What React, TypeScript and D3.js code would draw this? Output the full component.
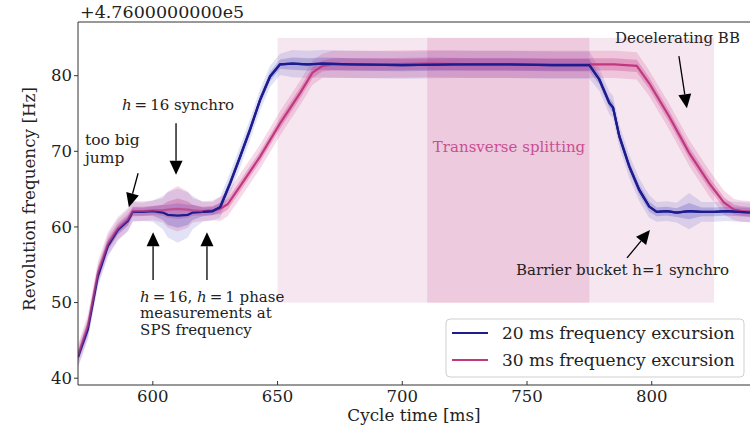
import React from "react";
import * as d3 from "d3";

// ---- data ----
const blueTime = [570,574,578,582,586,590,592,596,600,604,606,610,614,616,620,624,627,631,635,639,643,647,651,656,662,668,680,700,720,740,760,775,779,783,784.5,787,791,795,799,802,806,810,815,820,825,830,835,840];
const blueFreq = [42.8,46.5,53.5,57.5,59.6,60.8,62.0,62.0,62.1,61.9,61.6,61.5,61.6,61.9,62.0,62.1,62.6,65.8,69.3,72.9,76.8,79.9,81.5,81.6,81.5,81.6,81.5,81.4,81.5,81.5,81.4,81.4,79.5,76.4,75.8,72,68,64.9,62.7,62.0,62.1,61.9,62.1,62.0,62.0,62.1,62.0,61.9];
const blueSpread = [1.4,1.4,1.4,1.4,1.4,1.4,1.3,1.2,1.4,2.2,3.0,3.6,3.0,2.2,1.3,1.2,1.4,1.4,1.4,1.4,1.4,1.4,1.4,1.8,1.8,1.8,1.8,1.8,1.8,1.8,1.8,1.8,1.5,1.5,1.5,1.5,1.5,1.5,1.5,1.3,1.3,1.3,2.4,1.3,1.3,1.3,1.3,1.3];

const pinkTime = [570,574,578,582,586,590,592,596,600,604,606,610,614,616,620,624,627,630,635,643,651,659,664,668,672,690,710,730,750,770,785,794,799,807,815,823,829,833,836,840];
const pinkFreq = [43,47,54,57.8,59.8,61,62.1,62.1,62.2,62.2,62.3,62.4,62.3,62.2,62.1,62.2,62.4,63,65.4,69.3,73.7,77.7,80.4,81.3,81.5,81.5,81.6,81.5,81.5,81.5,81.5,81.3,79,74.6,69.8,65.8,63.2,62.3,62.1,62.0];
const pinkSpread = [1.5,1.5,1.5,1.5,1.5,1.5,1.3,1.3,1.3,1.6,2.4,3.0,2.4,1.6,1.3,1.3,1.6,1.6,1.6,1.6,1.6,1.6,1.6,1.6,1.8,1.8,1.8,1.8,1.8,1.8,1.8,1.8,1.7,1.7,1.7,1.7,1.6,1.4,1.4,1.4];

const xTicks = [600, 650, 700, 750, 800];
const yTicks = [40, 50, 60, 70, 80];
const seriesNames = ["20 ms frequency excursion", "30 ms frequency excursion"];
const lightSpan = [650, 825];
const darkSpan = [710, 775];
const spanFreq = [50, 85];

const W = 750, H = 429;
const FONT = "'DejaVu Serif', serif";
const BLUE = "#1c1c8e";
const PINK = "#c0397f";
const TS = "\u2009";

export default function App() {
  const x = d3.scaleLinear().domain([570, 840]).range([78, 751.5]);
  const y = d3.scaleLinear().domain([39.1, 87.1]).range([385, 22]);

  const mk = (t: number[], v: number[]) => t.map((tt, i) => ({ t: tt, v: v[i] }));
  const blue = mk(blueTime, blueFreq).map((d, i) => ({ ...d, s: blueSpread[i] }));
  const pink = mk(pinkTime, pinkFreq).map((d, i) => ({ ...d, s: pinkSpread[i] }));

  const line = d3.line<any>().x(d => x(d.t)).y(d => y(d.v));
  const band = (k: number) => d3.area<any>().x(d => x(d.t)).y0(d => y(d.v - d.s * k)).y1(d => y(d.v + d.s * k));

  const arrow = (t1: number, f1: number, t2: number, f2: number, key: string) => {
    const x1 = x(t1), y1 = y(f1), x2 = x(t2), y2 = y(f2);
    const dx = x2 - x1, dy = y2 - y1;
    const L = Math.hypot(dx, dy);
    const ux = dx / L, uy = dy / L;
    const hl = 14, hw = 6.5;
    const bx = x2 - ux * hl, by = y2 - uy * hl;
    const px = -uy, py = ux;
    return (
      <g key={key}>
        <line x1={x1} y1={y1} x2={bx} y2={by} stroke="#000" strokeWidth={1.3} />
        <path d={`M${x2},${y2}L${bx + px * hw},${by + py * hw}L${bx - px * hw},${by - py * hw}Z`} fill="#000" />
      </g>
    );
  };

  return (
    <svg width={W} height={H} style={{ position: "absolute", left: 0, top: 0, background: "#fff" }} fontFamily={FONT}>
      <defs>
        <clipPath id="plot"><rect x={78} y={22} width={W - 78} height={363} /></clipPath>
      </defs>
      <g clipPath="url(#plot)">
        <rect x={x(lightSpan[0])} y={y(spanFreq[1])} width={x(lightSpan[1]) - x(lightSpan[0])} height={y(spanFreq[0]) - y(spanFreq[1])} fill="#f6e6ef" />
        <rect x={x(darkSpan[0])} y={y(spanFreq[1])} width={x(darkSpan[1]) - x(darkSpan[0])} height={y(spanFreq[0]) - y(spanFreq[1])} fill="#edcadd" />
        <text x={x(742.8)} y={y(69.9)} textAnchor="middle" fontSize={15} fill="#c94f93">Transverse splitting</text>

        <path d={band(1)(blue)!} fill="#4a4ac8" opacity={0.16} />
        <path d={band(1)(pink)!} fill="#d0408a" opacity={0.2} />
        <path d={band(0.45)(blue)!} fill="#3a3ab8" opacity={0.25} />
        <path d={band(0.45)(pink)!} fill="#c8378a" opacity={0.3} />
        <path d={line(blue)!} fill="none" stroke={BLUE} strokeWidth={2.2} />
        <path d={line(pink.filter(d => d.t < 624))!} fill="none" stroke={PINK} strokeWidth={2.2} opacity={0.7} />
        <path d={line(pink.filter(d => d.t >= 620))!} fill="none" stroke={PINK} strokeWidth={2.2} />
        <path d={line(blue.filter(d => d.t >= 620))!} fill="none" stroke={BLUE} strokeWidth={2.2} />
      </g>

      {/* spines */}
      <line x1={78} y1={22} x2={W} y2={22} stroke="#333" strokeWidth={1} />
      <line x1={78} y1={22} x2={78} y2={385} stroke="#333" strokeWidth={1} />
      <line x1={78} y1={385} x2={W} y2={385} stroke="#333" strokeWidth={1} />

      {xTicks.map(t => (
        <g key={"xt" + t}>
          <line x1={x(t)} x2={x(t)} y1={385} y2={381} stroke="#333" />
          <text x={x(t)} y={402} textAnchor="middle" fontSize={16.5} fill="#222">{t}</text>
        </g>
      ))}
      {yTicks.map(t => (
        <g key={"yt" + t}>
          <line x1={74} x2={78} y1={y(t)} y2={y(t)} stroke="#333" />
          <text x={72} y={y(t) + 5.8} textAnchor="end" fontSize={16.5} fill="#222">{t}</text>
        </g>
      ))}
      <text x={80} y={18} fontSize={17.5} fill="#222">+4.7600000000e5</text>
      <text x={414} y={421} textAnchor="middle" fontSize={16.8} fill="#222">Cycle time [ms]</text>
      <text transform={`translate(35,199) rotate(-90)`} textAnchor="middle" fontSize={16.8} fill="#222">Revolution frequency [Hz]</text>

      {/* annotations */}
      <text x={x(785.3)} y={y(84.3)} fontSize={15} fill="#222">Decelerating BB</text>
      {arrow(810.9, 82.6, 814.1, 75.7, "a1")}
      <text x={x(572.8)} y={y(70.8)} fontSize={15.5} fill="#222">
        <tspan x={x(572.8)}>too big</tspan>
        <tspan x={x(572.8)} dy={17.5}>jump</tspan>
      </text>
      {arrow(594.1, 67.1, 590.4, 62.6, "a2")}
      <text x={x(587.6)} y={y(75.5)} fontSize={15} fill="#222">
        <tspan fontStyle="italic">h</tspan>{TS}={TS}16 synchro
      </text>
      {arrow(609.3, 73.7, 609.3, 66.9, "a3")}
      {arrow(600.1, 53.0, 600.1, 59.3, "a4")}
      {arrow(621.7, 53.0, 621.7, 59.3, "a5")}
      <text x={x(594.9)} y={y(50.1)} fontSize={15} fill="#222">
        <tspan x={x(594.9)}><tspan fontStyle="italic">h</tspan>{TS}={TS}16, <tspan fontStyle="italic">h</tspan>{TS}={TS}1 phase</tspan>
        <tspan x={x(594.9)} dy={16.5}>measurements at</tspan>
        <tspan x={x(594.9)} dy={16.5}>SPS frequency</tspan>
      </text>
      <text x={x(745.6)} y={y(53.6)} fontSize={15} fill="#222">Barrier bucket h=1 synchro</text>
      {arrow(790.1, 55.9, 799.3, 59.6, "a6")}

      {/* legend */}
      <rect x={446} y={319} width={298} height={58} rx={4} fill="#fff" fillOpacity={0.85} stroke="#cfcfcf" />
      <line x1={452} x2={488} y1={333} y2={333} stroke={BLUE} strokeWidth={2.2} />
      <text x={502} y={339} fontSize={17} fill="#222">{seriesNames[0]}</text>
      <line x1={452} x2={488} y1={360} y2={360} stroke={PINK} strokeWidth={2.2} />
      <text x={502} y={366} fontSize={17} fill="#222">{seriesNames[1]}</text>
    </svg>
  );
}
